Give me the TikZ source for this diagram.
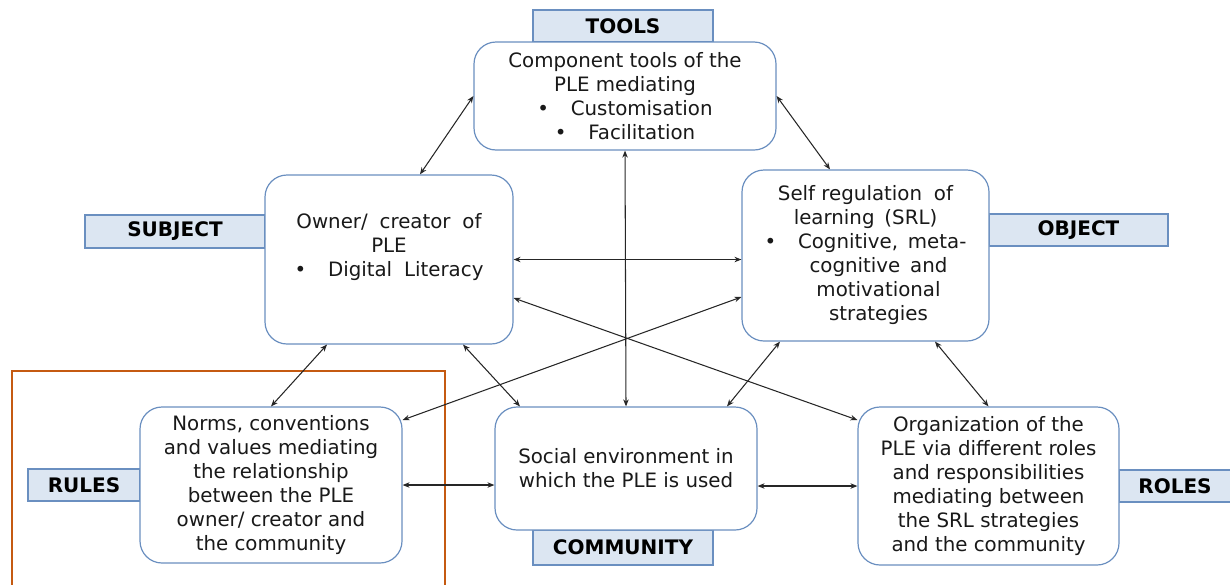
\documentclass[tikz,border=0pt]{standalone}
\usepackage{fontspec}
\setmainfont{DejaVu Sans}
\usetikzlibrary{arrows.meta}
\definecolor{boxline}{HTML}{6A8FC0}
\definecolor{labfill}{HTML}{DCE6F2}
\definecolor{orng}{HTML}{C55A11}
\begin{document}
\begin{tikzpicture}[x=1pt,y=-1pt,
 box/.style={draw=boxline, line width=1.2pt, fill=white, rounded corners=22pt, inner sep=0pt, align=center, font=\fontsize{19.8}{24}\selectfont, text=black!90},
 txt/.style={inner sep=0pt, align=center, font=\fontsize{19.8}{24}\selectfont, text=black!90},
 lab/.style={draw=boxline, line width=1.2pt, fill=labfill, inner sep=0pt, font=\fontsize{20}{24}\selectfont\bfseries, text=black},
 link/.style={draw=black!85, line width=1.05pt, {Stealth[length=7pt,width=5.5pt]}-{Stealth[length=7pt,width=5.5pt]}}]
\useasboundingbox (0,0) rectangle (1230,584);
% highlight frame
\draw[orng, line width=2.6pt] (12,590) -- (12,371) -- (445,371) -- (445,590);
% labels
\node[lab, minimum width=180pt, minimum height=32pt] (ltools) at (623,26) {TOOLS};
\node[lab, minimum width=180pt, minimum height=33pt] (lsubj) at (175,231.5) {SUBJECT};
\node[lab, minimum width=179pt, minimum height=32pt] (lobj) at (1078.5,230) {OBJECT};
\node[lab, minimum width=112pt, minimum height=32pt] (lrules) at (84,485) {RULES};
\node[lab, minimum width=180pt, minimum height=35pt] (lcomm) at (623,547.5) {COMMUNITY};
\node[lab, minimum width=111pt, minimum height=32pt] (lroles) at (1175,486) {ROLES};
% boxes
\node[box, minimum width=302pt, minimum height=108pt] (tools) at (625,96)
 {Component tools of the\\PLE mediating\\\textbullet\hspace{1.1em}Customisation\\\textbullet\hspace{1.1em}Facilitation};
\node[box, minimum width=248pt, minimum height=169pt] (subj) at (389,259.5) {};
\node[txt] (subjtext) at ([yshift=12pt]subj.center)
 {Owner/\hspace{0.6em}creator\hspace{0.6em}of\\PLE\\\textbullet\hspace{1.1em}Digital\hspace{0.6em}Literacy};
\node[box, minimum width=247pt, minimum height=171pt] (obj) at (865.5,255.5)
 {Self regulation\hspace{0.6em}of\\learning\hspace{0.5em}(SRL)\\\textbullet\hspace{1.1em}Cognitive,\hspace{0.5em}meta-\\\hspace*{26pt}cognitive\hspace{0.5em}and\\\hspace*{26pt}motivational\\\hspace*{26pt}strategies};
\node[box, minimum width=262pt, minimum height=156pt] (rules) at (271,485)
 {Norms, conventions\\and values mediating\\the relationship\\between the PLE\\owner/ creator and\\the community};
\node[box, minimum width=262pt, minimum height=123pt] (comm) at (626,468.5)
 {Social environment in\\which the PLE is used};
\node[box, minimum width=261pt, minimum height=158pt] (roles) at (988.5,486)
 {Organization of the\\PLE via different roles\\and responsibilities\\mediating between\\the SRL strategies\\and the community};
% connectors
\draw[link] (tools.west) -- ([xshift=31pt]subj.north);
\draw[link] (tools.east) -- ([xshift=-35.5pt]obj.north);
\draw[link] (tools.south) -- (comm.north);
\draw[link] (subj.east) -- (subj.east -| obj.west);
\draw[link] ([yshift=-38.5pt]subj.east) -- ([yshift=66pt]roles.west);
\draw[link] ([yshift=-41.5pt]obj.west) -- ([yshift=65pt]rules.east);
\draw[link] ([xshift=-62pt]subj.south) -- (rules.north);
\draw[link] ([xshift=74pt]subj.south) -- ([xshift=-106pt]comm.north);
\draw[link] ([xshift=-85.5pt]obj.south) -- ([xshift=101pt]comm.north);
\draw[link] ([xshift=69.5pt]obj.south) -- (roles.north);
\draw[link] (rules.east) -- (rules.east -| comm.west);
\draw[link] ([yshift=-17.5pt]comm.east) -- (roles.west);
\end{tikzpicture}
\end{document}
